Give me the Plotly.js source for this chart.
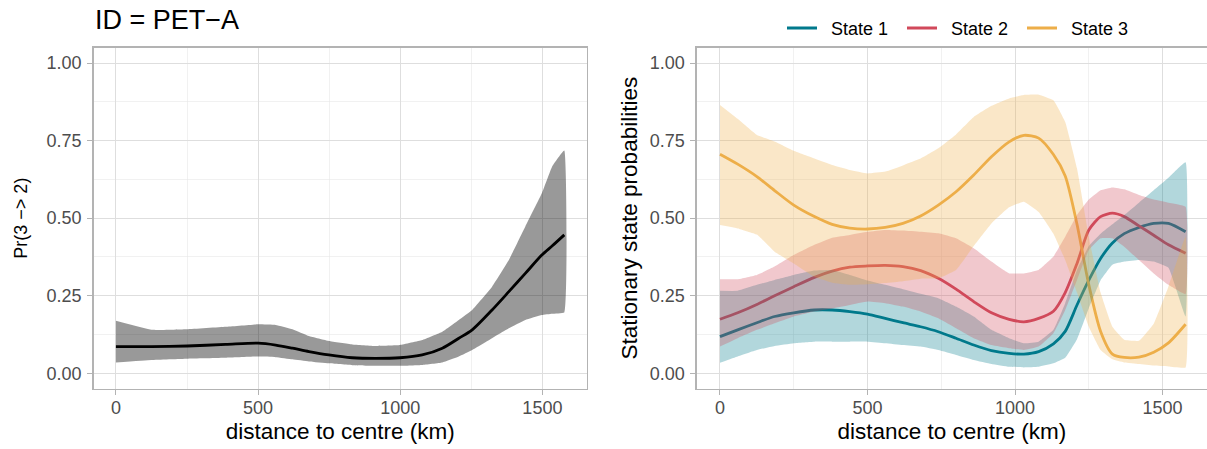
<!DOCTYPE html>
<html><head><meta charset="utf-8">
<script src="https://cdn.plot.ly/plotly-3.0.1.min.js"></script>
<style>html,body{margin:0;padding:0;background:#fff}#chart{width:1207px;height:449px}</style>
</head><body><div id="chart"></div><script>
// ---- Left panel: Pr(3 -> 2) ----
const distLeft = [0,125,250,386,500,562,621,679,749,831,913,999,1077,1148,1206,1253,1323,1382,1440,1498,1534,1577];
const prLine  = [0.086,0.086,0.088,0.093,0.097,0.091,0.081,0.070,0.059,0.050,0.048,0.050,0.059,0.081,0.113,0.140,0.204,0.263,0.322,0.381,0.410,0.446];
const prUpper = [0.169,0.140,0.142,0.150,0.158,0.156,0.142,0.120,0.104,0.093,0.088,0.091,0.107,0.134,0.172,0.204,0.279,0.365,0.473,0.580,0.666,0.718];
const prLower = [0.035,0.043,0.047,0.050,0.054,0.052,0.045,0.038,0.032,0.026,0.024,0.024,0.027,0.035,0.054,0.075,0.113,0.145,0.172,0.188,0.192,0.196];

// ---- Right panel: stationary state probabilities ----
const distRight = [0,60,125,185,250,320,380,440,500,560,620,680,740,800,860,920,980,1030,1080,1130,1170,1210,1250,1290,1330,1370,1420,1470,1520,1578];
const state1      = [0.118,0.140,0.163,0.183,0.195,0.204,0.204,0.199,0.191,0.177,0.163,0.150,0.134,0.113,0.091,0.073,0.064,0.062,0.070,0.095,0.135,0.220,0.300,0.370,0.420,0.450,0.470,0.483,0.483,0.456];
const state1Upper = [0.266,0.266,0.285,0.301,0.317,0.331,0.333,0.317,0.299,0.285,0.271,0.256,0.242,0.215,0.183,0.140,0.113,0.097,0.102,0.140,0.226,0.333,0.410,0.450,0.480,0.510,0.550,0.590,0.630,0.680];
const state1Lower = [0.034,0.054,0.075,0.088,0.097,0.102,0.102,0.102,0.102,0.097,0.091,0.086,0.075,0.059,0.043,0.030,0.021,0.019,0.021,0.032,0.050,0.110,0.210,0.300,0.350,0.360,0.365,0.360,0.340,0.183];
const state2      = [0.174,0.195,0.222,0.250,0.279,0.309,0.329,0.342,0.346,0.348,0.344,0.331,0.306,0.271,0.231,0.195,0.174,0.166,0.177,0.200,0.260,0.354,0.462,0.505,0.516,0.505,0.475,0.445,0.414,0.387];
const state2Upper = [0.303,0.303,0.317,0.344,0.381,0.414,0.437,0.446,0.456,0.462,0.460,0.456,0.451,0.435,0.403,0.360,0.322,0.322,0.333,0.376,0.440,0.510,0.560,0.590,0.599,0.593,0.575,0.560,0.550,0.537];
const state2Lower = [0.086,0.113,0.140,0.161,0.183,0.199,0.209,0.220,0.231,0.226,0.215,0.199,0.177,0.145,0.113,0.091,0.081,0.075,0.086,0.129,0.204,0.301,0.397,0.435,0.435,0.408,0.365,0.322,0.285,0.255];
const state3      = [0.706,0.674,0.634,0.589,0.542,0.505,0.480,0.468,0.465,0.470,0.483,0.507,0.542,0.585,0.639,0.698,0.746,0.767,0.758,0.705,0.636,0.480,0.285,0.135,0.062,0.051,0.052,0.068,0.098,0.158];
const state3Upper = [0.865,0.820,0.768,0.747,0.717,0.692,0.671,0.655,0.644,0.650,0.670,0.692,0.725,0.770,0.826,0.862,0.886,0.897,0.898,0.880,0.810,0.660,0.440,0.260,0.150,0.108,0.105,0.160,0.280,0.440];
const state3Lower = [0.478,0.467,0.447,0.392,0.354,0.311,0.292,0.285,0.287,0.291,0.297,0.305,0.306,0.333,0.410,0.483,0.535,0.553,0.520,0.450,0.365,0.260,0.150,0.075,0.045,0.035,0.030,0.025,0.022,0.019];

const stateNames  = ['State 1','State 2','State 3'];
const stateColors = ['#00798c','#d1495b','#edae49'];
const stateFills  = ['rgba(0,121,140,0.3)','rgba(209,73,91,0.3)','rgba(237,174,73,0.3)'];
const xTicks = [0,500,1000,1500];
const yTicks = [0,0.25,0.5,0.75,1];

const FONT = 'Liberation Sans, Arial, Helvetica, sans-serif';
const W = 1207, H = 449;

function ribbon(x, up, lo) {
  return { x: x.concat(x.slice().reverse()), y: up.concat(lo.slice().reverse()) };
}

const traces = [];
traces.push({x: distLeft, y: prLine, xaxis:'x', yaxis:'y', mode:'lines', line:{color:'#000000', width:2.8, shape:'spline', smoothing:0.8}, showlegend:false, hoverinfo:'skip'});
const rl = ribbon(distLeft, prUpper, prLower);
traces.push({x: rl.x, y: rl.y, xaxis:'x', yaxis:'y', mode:'lines', fill:'toself', fillcolor:'rgba(0,0,0,0.4)', line:{width:0, shape:'spline', smoothing:0.3}, showlegend:false, hoverinfo:'skip'});

const sLines = [state1, state2, state3];
const sUp = [state1Upper, state2Upper, state3Upper];
const sLo = [state1Lower, state2Lower, state3Lower];
for (let i = 0; i < 3; i++) {
  traces.push({x: distRight, y: sLines[i], xaxis:'x2', yaxis:'y2', mode:'lines', name: '\u2002' + stateNames[i],
    line:{color: stateColors[i], width:2.8, shape:'spline', smoothing:0.7}, hoverinfo:'skip'});
}
for (let i = 0; i < 3; i++) {
  const r = ribbon(distRight, sUp[i], sLo[i]);
  traces.push({x: r.x, y: r.y, xaxis:'x2', yaxis:'y2', mode:'lines', fill:'toself', fillcolor: stateFills[i],
    line:{width:0, shape:'spline', smoothing:0.3}, showlegend:false, hoverinfo:'skip'});
}

const yDom = [(H - 388.8) / H, (H - 47.5) / H];
function xAxis(domain, range) {
  return {
    domain: domain, range: range, tickvals: xTicks, ticktext: xTicks.map(String),
    ticks:'outside', ticklen:5, tickcolor:'#b3b3b3', tickwidth:1, ticklabelstandoff:-3,
    tickfont:{family:FONT, size:18, color:'#4d4d4d'},
    showgrid:true, gridcolor:'#dedede', gridwidth:1,
    minor:{tickvals:[250,750,1250], showgrid:true, gridcolor:'#e8e8e8', gridwidth:0.6, ticks:''},
    showline:true, linecolor:'#b3b3b3', linewidth:1.3, mirror:true,
    zeroline:false, automargin:false, fixedrange:true,
    title:{text:'distance to centre (km)', font:{family:FONT, size:22.5, color:'#000000'}, standoff:6}
  };
}
function yAxis(anchor, titleText, titleSize, standoff, mirror) {
  return {
    domain: yDom, range:[-0.05,1.05], anchor: anchor, tickvals: yTicks, ticktext: yTicks.map(v => v.toFixed(2)),
    ticks:'outside', ticklen:5, tickcolor:'#b3b3b3', tickwidth:1, ticklabelstandoff:2,
    tickfont:{family:FONT, size:18, color:'#4d4d4d'},
    showgrid:true, gridcolor:'#dedede', gridwidth:1,
    minor:{tickvals:[0.125,0.375,0.625,0.875], showgrid:true, gridcolor:'#e8e8e8', gridwidth:0.6, ticks:''},
    showline:true, linecolor:'#b3b3b3', linewidth:1.3, mirror:mirror,
    zeroline:false, automargin:false, fixedrange:true,
    title:{text:titleText, font:{family:FONT, size:titleSize, color:'#000000'}, standoff:standoff}
  };
}

const layout = {
  width:W, height:H, margin:{l:0, r:0, t:0, b:0, pad:0},
  paper_bgcolor:'#ffffff', plot_bgcolor:'#ffffff',
  font:{family:FONT},
  title:{text:'ID = PET\u2212A', x:95/W, xanchor:'left', xref:'paper', y:1 - 19.5/H, yanchor:'middle', yref:'paper',
         font:{family:FONT, size:27, color:'#000000'}},
  xaxis: xAxis([93.5/W, 587/W], [-78.9, 1656.9]),
  yaxis: yAxis('x', 'Pr(3 \u2212> 2)', 18, 14, true),
  xaxis2: Object.assign(xAxis([696.7/W, 1], [-78.9, -78.9 + (W - 696.7)/0.29507]), {anchor:'y2'}),
  yaxis2: yAxis('x2', 'Stationary state probabilities', 22.5, 6, false),
  showlegend:true,
  legend:{orientation:'h', x:782/W, xanchor:'left', y:1 - 28.3/H, yanchor:'middle',
          font:{family:FONT, size:18, color:'#000000'}, bgcolor:'rgba(0,0,0,0)', borderwidth:0,
          entrywidth:75, entrywidthmode:'pixels', traceorder:'normal'}
};
layout.xaxis.anchor = 'y';

Plotly.newPlot('chart', traces, layout, {displayModeBar:false, staticPlot:true});
</script></body></html>
